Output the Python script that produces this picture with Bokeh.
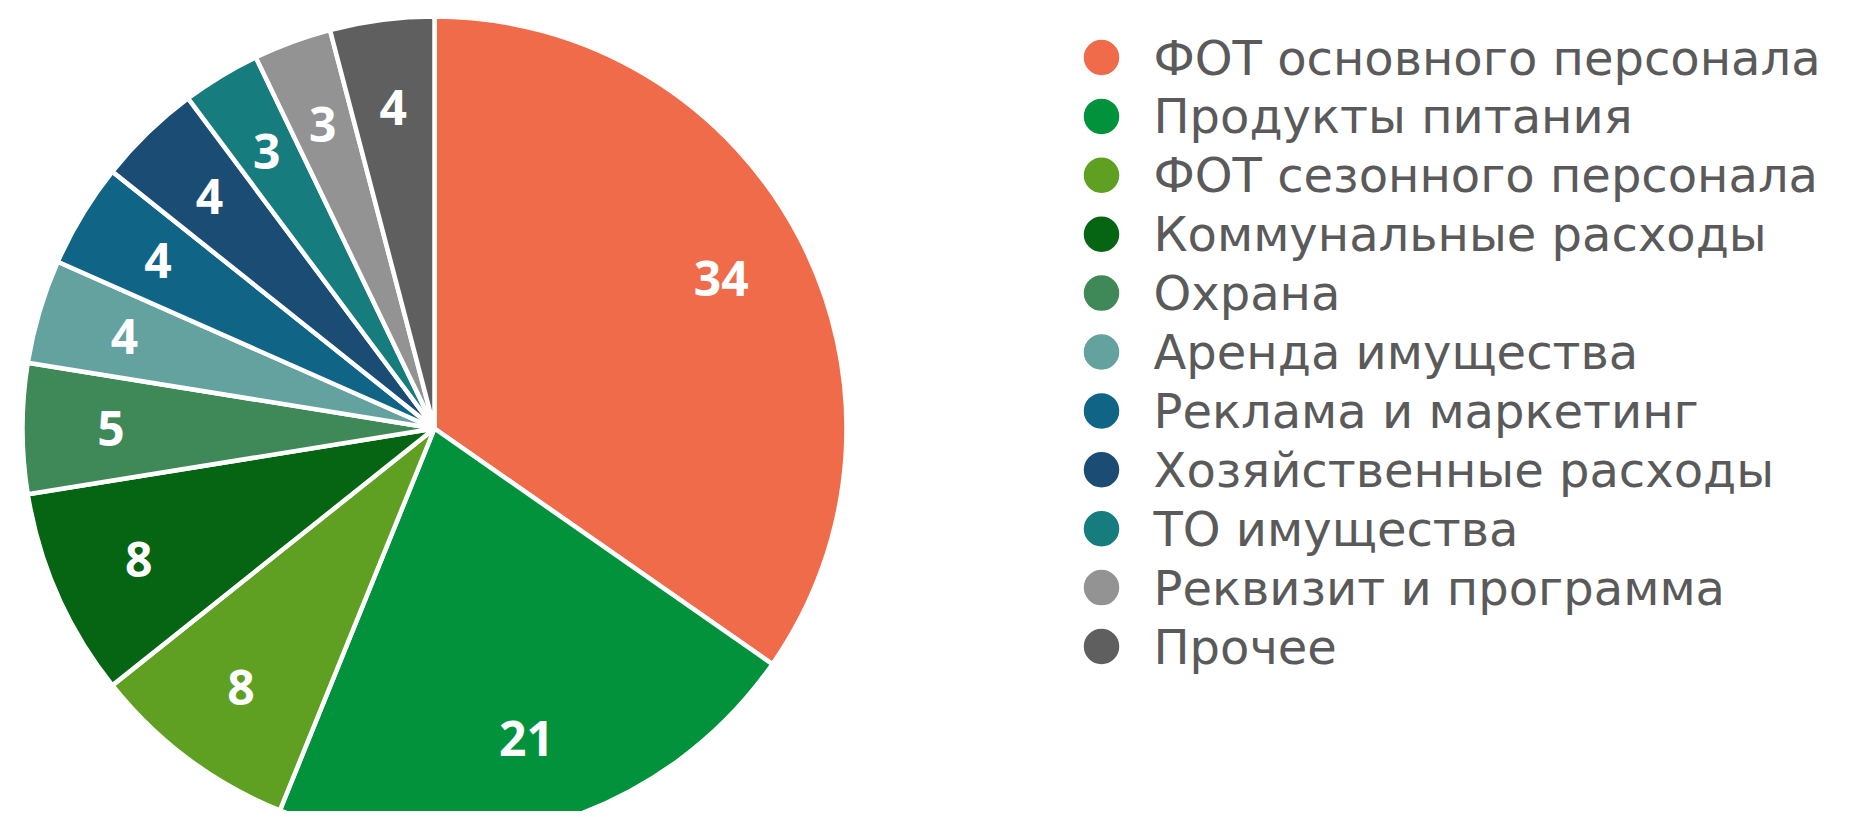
import numpy as np
from bokeh.plotting import figure
from bokeh.models import Range1d, ColumnDataSource
from bokeh.core.properties import value
from bokeh.embed import file_html
from bokeh.resources import INLINE

categories = ["ФОТ основного персонала", "Продукты питания", "ФОТ сезонного персонала",
              "Коммунальные расходы", "Охрана", "Аренда имущества", "Реклама и маркетинг",
              "Хозяйственные расходы", "ТО имущества", "Реквизит и программа", "Прочее"]
values = [34, 21, 8, 8, 5, 4, 4, 4, 3, 3, 4]
colors = ["#F06B49", "#02923C", "#5FA022", "#066512", "#3E8957", "#63A29F",
          "#106587", "#1B4D74", "#177C7E", "#939393", "#5F5F5F"]

W, H = 1838, 811
cx, cy, R = 434, -428, 412

vals = np.array(values, dtype=float)
frac = vals / vals.sum()
cum = np.concatenate([[0], np.cumsum(frac)])
start = np.pi / 2 - cum[:-1] * 2 * np.pi
end = np.pi / 2 - cum[1:] * 2 * np.pi
mid = (start + end) / 2

src = ColumnDataSource(dict(start=start, end=end, color=colors))

p = figure(width=W, height=H, x_range=Range1d(0, W), y_range=Range1d(-H, 0),
           output_backend="svg", toolbar_location=None, min_border=0)
p.axis.visible = False
p.grid.visible = False
p.outline_line_color = None

p.wedge(x=cx, y=cy, radius=R, start_angle="start", end_angle="end", direction="clock",
        fill_color="color", line_color="white", line_width=4.5, source=src)

lr = 0.785 * R
lab = ColumnDataSource(dict(x=cx + lr * np.cos(mid), y=cy + lr * np.sin(mid),
                            t=[str(v) for v in values]))
p.text(x="x", y="y", text="t", source=lab, text_color="white",
       text_font=value("Open Sans"), text_font_style="bold", text_font_size="48px",
       text_align="center", text_baseline="middle")

# legend
ly0, lstep = -57, -58.9
lx = 1101
ys = [ly0 + i * lstep for i in range(len(categories))]
leg = ColumnDataSource(dict(x=[lx] * len(categories), y=ys, c=colors, t=categories,
                            tx=[lx + 52] * len(categories)))
p.scatter(x="x", y="y", size=37, fill_color="c", line_color="white", line_width=1.5, source=leg)
p.text(x="tx", y="y", text="t", source=leg, text_color="#5A5A5A",
       text_font=value("DejaVu Sans"), text_font_size="48px",
       text_align="left", text_baseline="middle")

open("out.html", "w").write(file_html(p, INLINE))
